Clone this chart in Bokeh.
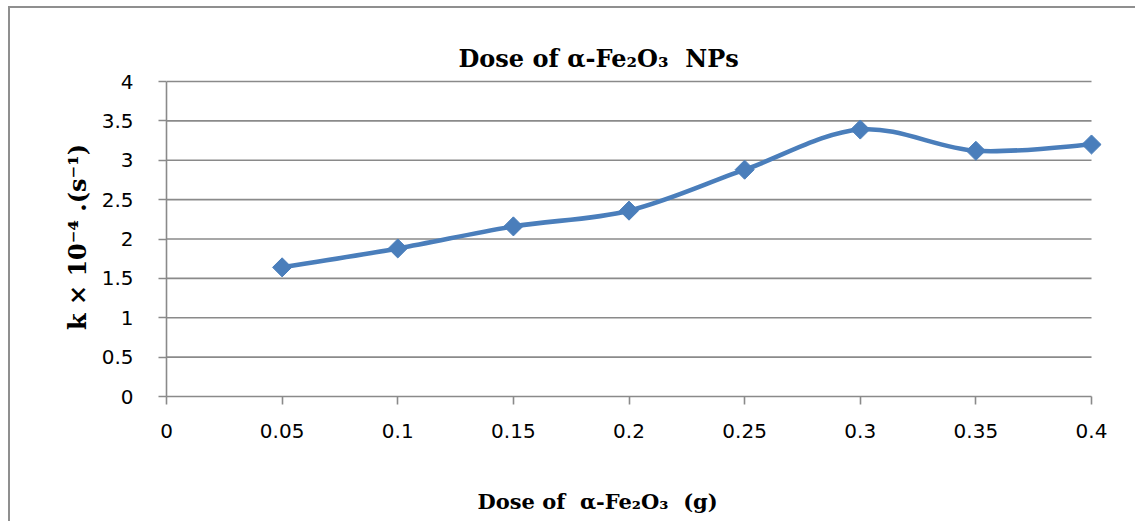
import numpy as np
from bokeh.plotting import figure
from bokeh.models import Range1d, FixedTicker, LinearAxis, Title
from bokeh.embed import file_html
from bokeh.resources import INLINE

# ---- data ----
doses = [0.05, 0.10, 0.15, 0.20, 0.25, 0.30, 0.35, 0.40]
k_values = [1.64, 1.88, 2.16, 2.36, 2.88, 3.39, 3.12, 3.20]

x_ticks = [0, 0.05, 0.1, 0.15, 0.2, 0.25, 0.3, 0.35, 0.4]
x_tick_labels = ["0", "0.05", "0.1", "0.15", "0.2", "0.25", "0.3", "0.35", "0.4"]
y_ticks = [0, 0.5, 1, 1.5, 2, 2.5, 3, 3.5, 4]
y_tick_labels = ["0", "0.5", "1", "1.5", "2", "2.5", "3", "3.5", "4"]

NB = "\u00a0"
title_text = "Dose of α-Fe₂O₃" + NB + NB + "NPs"
x_label = "Dose of" + NB + NB + "α-Fe₂O₃" + NB + NB + "(g)"
y_label = "k × 10⁻⁴ .(s⁻¹)"

LINE = "#4a7ebb"
GRID = "#8a8a8a"

W, H = 1150, 515
p = figure(width=W, height=H, output_backend="svg", toolbar_location=None,
           x_range=Range1d(0, 0.40432), y_range=Range1d(0, 4.0508),
           min_border_left=156, min_border_right=59,
           min_border_top=69, min_border_bottom=127,
           background_fill_color="white", border_fill_color="white")
p.outline_line_color = None
p.styles = {"margin-left": "8px", "margin-top": "6px",
            "border-left": "2px solid #8f8f8f", "border-top": "2px solid #8f8f8f"}

# title
p.title.text = title_text
p.title.align = "left"
p.title.offset = 292
p.title.text_font = "DejaVu Serif"
p.title.text_font_style = "bold"
p.title.text_font_size = "24px"
p.title.text_color = "black"
p.title.standoff = 10

# grid lines (drawn from tick arrays, ending at last x tick)
p.xgrid.visible = False
p.ygrid.visible = False
p.segment(x0=[x_ticks[0]] * (len(y_ticks) - 1), y0=y_ticks[1:],
          x1=[x_ticks[-1]] * (len(y_ticks) - 1), y1=y_ticks[1:],
          line_color=GRID, line_width=1.6)

# axes
for ax in (p.xaxis[0], p.yaxis[0]):
    ax.axis_line_color = GRID
    ax.axis_line_width = 1.6
    ax.major_tick_line_color = GRID
    ax.major_tick_line_width = 1.6
    ax.major_tick_in = 0
    ax.major_tick_out = 8
    ax.minor_tick_line_color = None
    ax.major_label_text_font = "DejaVu Sans"
    ax.major_label_text_font_size = "20px"
    ax.major_label_text_color = "black"

p.xaxis.ticker = FixedTicker(ticks=x_ticks)
p.xaxis.major_label_overrides = {t: l for t, l in zip(x_ticks, x_tick_labels)}
p.xaxis.bounds = (x_ticks[0], x_ticks[-1])
p.xaxis.major_label_standoff = 19

p.yaxis.ticker = FixedTicker(ticks=y_ticks)
p.yaxis.major_label_overrides = {t: l for t, l in zip(y_ticks, y_tick_labels)}
p.yaxis.bounds = (y_ticks[0], y_ticks[-1])
p.yaxis.major_label_standoff = 25
p.yaxis.axis_label = y_label
p.yaxis.axis_label_text_font = "DejaVu Serif"
p.yaxis.axis_label_text_font_style = "bold"
p.yaxis.axis_label_text_font_size = "24px"
p.yaxis.axis_label_text_color = "black"
p.yaxis.axis_label_standoff = 7

# bare spacer axis (no line, no ticks) to push the x title down
spacer = LinearAxis(ticker=FixedTicker(ticks=[]),
                    axis_line_color=None, major_tick_line_color=None,
                    minor_tick_line_color=None, major_tick_out=0,
                    major_tick_in=0, major_label_standoff=0,
                    major_label_text_font_size="0px",
                    axis_label=NB, axis_label_standoff=40,
                    axis_label_text_font_size="1px")
p.add_layout(spacer, "below")

# x title, left-aligned with an offset from the frame's left edge
xt = Title(text=x_label, align="left", offset=311, text_font="DejaVu Serif",
           text_font_style="bold", text_font_size="21px", text_color="black",
           standoff=4)
p.add_layout(xt, "below")

# smoothed line (Catmull-Rom style Bezier segments built from the data)
xs = np.array(doses, dtype=float)
ys = np.array(k_values, dtype=float)
n = len(xs)
X0, Y0, X1, Y1, CX0, CY0, CX1, CY1 = ([] for _ in range(8))
for i in range(n - 1):
    pm = i - 1 if i > 0 else 0
    pn = i + 2 if i + 2 < n else n - 1
    X0.append(xs[i]); Y0.append(ys[i])
    X1.append(xs[i + 1]); Y1.append(ys[i + 1])
    CX0.append(xs[i] + (xs[i + 1] - xs[pm]) / 6)
    CY0.append(ys[i] + (ys[i + 1] - ys[pm]) / 6)
    CX1.append(xs[i + 1] - (xs[pn] - xs[i]) / 6)
    CY1.append(ys[i + 1] - (ys[pn] - ys[i]) / 6)
p.bezier(x0=X0, y0=Y0, x1=X1, y1=Y1, cx0=CX0, cy0=CY0, cx1=CX1, cy1=CY1,
         line_color=LINE, line_width=4.6, line_cap="round")

p.scatter(doses, k_values, marker="square", angle=np.pi / 4, size=13.5,
          fill_color=LINE, line_color=LINE)

open("out.html", "w").write(file_html(p, INLINE))
